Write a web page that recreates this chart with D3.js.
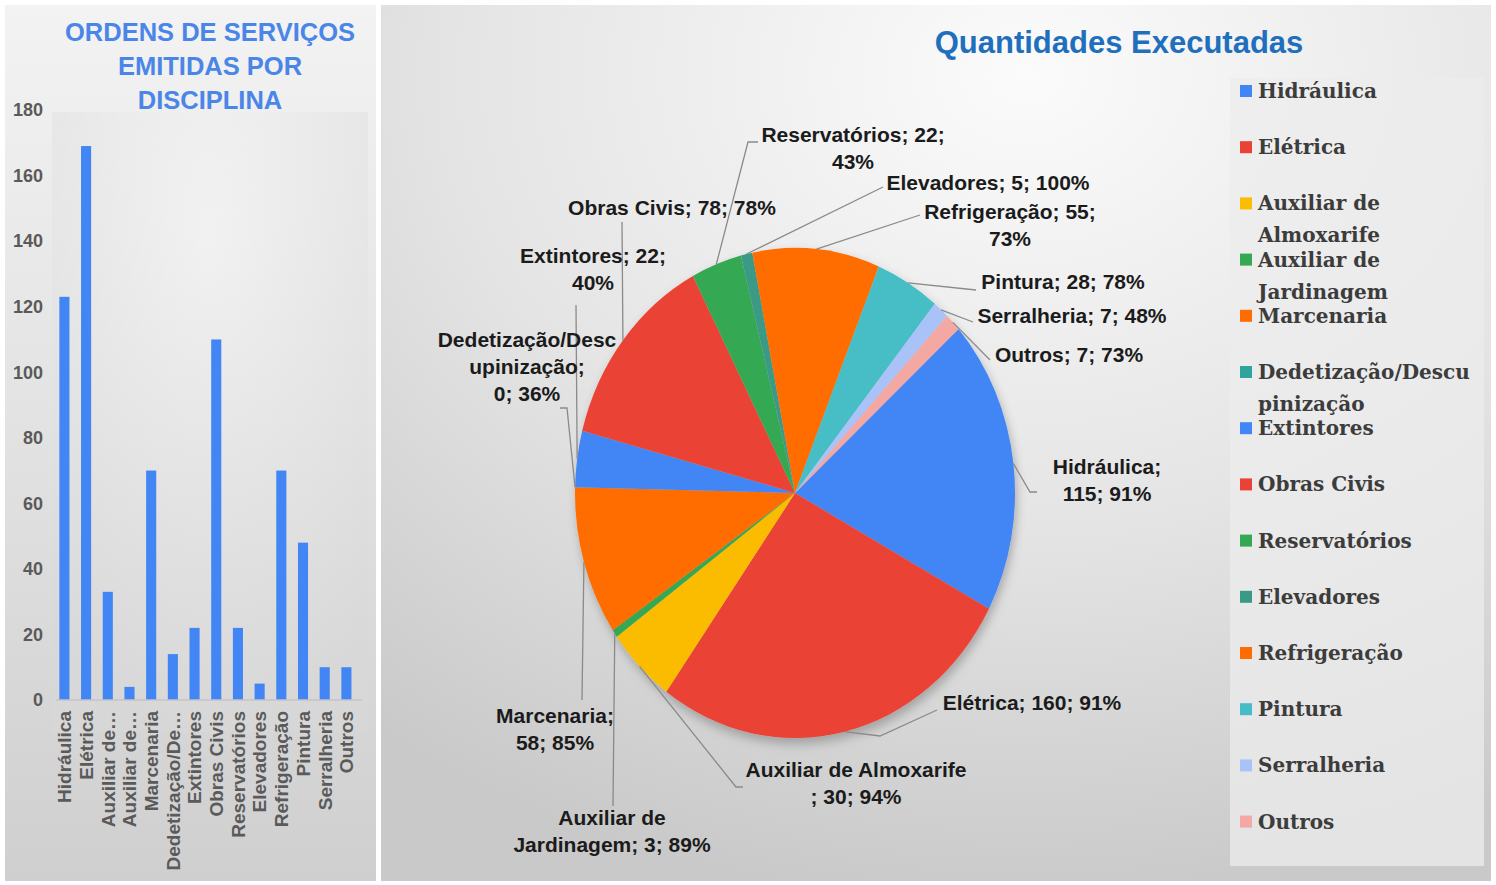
<!DOCTYPE html>
<html>
<head>
<meta charset="utf-8">
<script src="https://cdn.jsdelivr.net/npm/d3@7"></script>
<style>
  body { margin: 0; background: #ffffff; }
  svg { display: block; }
</style>
</head>
<body>
<div id="chart"></div>
<script>
// categorias (mesma ordem no gráfico de barras, na pizza e na legenda)
const categorias = ["Hidráulica", "Elétrica", "Auxiliar de Almoxarife", "Auxiliar de Jardinagem",
  "Marcenaria", "Dedetização/Descupinização", "Extintores", "Obras Civis", "Reservatórios",
  "Elevadores", "Refrigeração", "Pintura", "Serralheria", "Outros"]

// rótulos do eixo x (truncados como no original)
const rotulosBarras = ["Hidráulica", "Elétrica", "Auxiliar de…", "Auxiliar de…", "Marcenaria",
  "Dedetização/De…", "Extintores", "Obras Civis", "Reservatórios", "Elevadores",
  "Refrigeração", "Pintura", "Serralheria", "Outros"]

// ordens de serviço emitidas (barras)
const ordensEmitidas = [123, 169, 33, 4, 70, 14, 22, 110, 22, 5, 70, 48, 10, 10]

// quantidades executadas (pizza) e percentual
const qtdExecutadas = [115, 160, 30, 3, 58, 0, 22, 78, 22, 5, 55, 28, 7, 7]
const percentuais = ["91%", "91%", "94%", "89%", "85%", "36%", "40%", "78%", "43%", "100%", "73%", "78%", "48%", "73%"]

const yTicks = [0, 20, 40, 60, 80, 100, 120, 140, 160, 180]

const coresFatias = ["#4285f4", "#ea4335", "#fbbc04", "#34a853", "#ff6d01", "#2fa39c", "#4285f4",
  "#ea4335", "#34a853", "#3a9a86", "#ff6d01", "#46bdc6", "#a9c3f8", "#f4a8a3"]

// posicao dos rotulos da pizza (layout, estilo excel): centro do texto, quebras, pontos da linha guia
const layoutRotulos = [
  {x: 1107, y: 467, br: [11], guia: [[1030, 492], [1037, 492]]},
  {x: 1032, y: 703, br: [], guia: [[880, 736], [937, 710]]},
  {x: 856, y: 770, br: [22], guia: [[736, 787], [743, 787]]},
  {x: 612, y: 818, br: [11], guia: [[613, 806]]},
  {x: 555, y: 716, br: [11], guia: [[582, 700]]},
  {x: 527, y: 340, br: [16, 27], guia: [[567, 408], [560, 408]]},
  {x: 593, y: 256, br: [15], guia: [[576, 305]]},
  {x: 672, y: 208, br: [], guia: [[622, 222]]},
  {x: 853, y: 135, br: [18], guia: [[748, 142], [758, 142]]},
  {x: 988, y: 183, br: [], guia: [[883, 187]]},
  {x: 1010, y: 212, br: [17], guia: [[920, 215]]},
  {x: 1063, y: 282, br: [], guia: [[976, 290]]},
  {x: 1072, y: 316, br: [], guia: [[973, 322]]},
  {x: 1069, y: 355, br: [], guia: [[990, 360]]}
]

const W = 1496, H = 885

const svg = d3.select("#chart")
  .append("svg")
  .attr("width", W)
  .attr("height", H)

const defs = svg.append("defs")

// fundos com gradiente
const gEsq = defs.append("linearGradient").attr("id", "fundoEsq")
  .attr("x1", 0).attr("y1", 0).attr("x2", 0).attr("y2", 1)
gEsq.append("stop").attr("offset", "0%").attr("stop-color", "#f3f3f3")
gEsq.append("stop").attr("offset", "55%").attr("stop-color", "#e0e0e0")
gEsq.append("stop").attr("offset", "100%").attr("stop-color", "#cfcfcf")

const gDir = defs.append("radialGradient").attr("id", "fundoDir")
  .attr("cx", "58%").attr("cy", "8%").attr("r", "95%")
gDir.append("stop").attr("offset", "0%").attr("stop-color", "#fbfbfb")
gDir.append("stop").attr("offset", "55%").attr("stop-color", "#e4e4e4")
gDir.append("stop").attr("offset", "100%").attr("stop-color", "#c9c9c9")

const gPlot = defs.append("radialGradient").attr("id", "fundoPlot")
  .attr("cx", "50%").attr("cy", "20%").attr("r", "80%")
gPlot.append("stop").attr("offset", "0%").attr("stop-color", "#f6f6f6")
gPlot.append("stop").attr("offset", "100%").attr("stop-color", "#d8d8d8")

const sombra = defs.append("filter").attr("id", "sombra")
  .attr("x", "-20%").attr("y", "-20%").attr("width", "140%").attr("height", "140%")
sombra.append("feDropShadow").attr("dx", 2).attr("dy", 5).attr("stdDeviation", 5)
  .attr("flood-color", "#000").attr("flood-opacity", 0.25)

svg.append("rect").attr("x", 5).attr("y", 5).attr("width", 371).attr("height", 876)
  .attr("fill", "url(#fundoEsq)")
svg.append("rect").attr("x", 52).attr("y", 112).attr("width", 316).attr("height", 620)
  .attr("fill", "url(#fundoPlot)").attr("opacity", 0.6)
svg.append("rect").attr("x", 381).attr("y", 5).attr("width", 1110).attr("height", 876)
  .attr("fill", "url(#fundoDir)")

// ---------------- barras ----------------
const titulo = ["ORDENS DE SERVIÇOS", "EMITIDAS POR", "DISCIPLINA"]
svg.append("g").selectAll("text")
  .data(titulo)
  .join("text")
  .attr("x", 210)
  .attr("y", (d, i) => 32 + i * 34)
  .attr("dy", "0.35em")
  .attr("text-anchor", "middle")
  .style("font-family", "'Liberation Sans', Arial, sans-serif")
  .style("font-weight", "bold")
  .style("font-size", "25.5px")
  .style("fill", "#4a86e8")
  .text(d => d)

const xScale = d3.scaleBand()
  .domain(d3.range(categorias.length))
  .range([53.5, 357.3])
  .paddingInner(0.535)
  .paddingOuter(0.27)

const yScale = d3.scaleLinear()
  .domain([0, 180])
  .range([700, 110])

svg.append("g").selectAll("text")
  .data(yTicks)
  .join("text")
  .attr("x", 43)
  .attr("y", d => yScale(d))
  .attr("dy", "0.35em")
  .attr("text-anchor", "end")
  .style("font-family", "'Liberation Sans', Arial, sans-serif")
  .style("font-weight", "bold")
  .style("font-size", "18px")
  .style("fill", "#5a5a5a")
  .text(d => d)

svg.append("g").selectAll("rect")
  .data(ordensEmitidas)
  .join("rect")
  .attr("x", (d, i) => xScale(i))
  .attr("y", d => yScale(d))
  .attr("width", xScale.bandwidth())
  .attr("height", d => yScale(0) - yScale(d))
  .attr("fill", "#4285f4")

svg.append("line")
  .attr("x1", 56).attr("x2", 362)
  .attr("y1", yScale(0)).attr("y2", yScale(0))
  .attr("stroke", "#c4c4c4").attr("stroke-width", 1.5)

svg.append("g").selectAll("text")
  .data(rotulosBarras)
  .join("text")
  .attr("transform", (d, i) => `translate(${xScale(i) + xScale.bandwidth() / 2},711) rotate(-90)`)
  .attr("dy", "0.36em")
  .attr("text-anchor", "end")
  .style("font-family", "'Liberation Sans', Arial, sans-serif")
  .style("font-weight", "bold")
  .style("font-size", "19px")
  .style("fill", "#5a5a5a")
  .text(d => d)

// ---------------- pizza ----------------
svg.append("text")
  .attr("x", 1119).attr("y", 42)
  .attr("dy", "0.35em")
  .attr("text-anchor", "middle")
  .style("font-family", "'Liberation Sans', Arial, sans-serif")
  .style("font-weight", "bold")
  .style("font-size", "31px")
  .style("fill", "#1f6fbd")
  .text("Quantidades Executadas")

const cx = 795, cy = 493, raio = 220, esticar = 245 / 220
const inicio = 48 * Math.PI / 180

const pie = d3.pie().sort(null).value(d => d)
  .startAngle(inicio).endAngle(inicio + 2 * Math.PI)
const arcs = pie(qtdExecutadas)
const arc = d3.arc().innerRadius(0).outerRadius(raio)

svg.append("g")
  .attr("transform", `translate(${cx},${cy}) scale(1,${esticar})`)
  .attr("filter", "url(#sombra)")
  .selectAll("path")
  .data(arcs)
  .join("path")
  .attr("d", arc)
  .attr("fill", (d, i) => coresFatias[i])

// ponto na borda da fatia (meio do angulo)
function pontoBorda(d) {
  const a = (d.startAngle + d.endAngle) / 2
  return [cx + raio * Math.sin(a), cy - raio * esticar * Math.cos(a)]
}

svg.append("g").selectAll("polyline")
  .data(arcs)
  .join("polyline")
  .attr("points", (d, i) => [pontoBorda(d)].concat(layoutRotulos[i].guia).map(p => p.join(",")).join(" "))
  .attr("fill", "none")
  .attr("stroke", "#8a8a8a")
  .attr("stroke-width", 1.3)

function quebrar(s, br) {
  const linhas = []
  let ant = 0
  br.forEach(b => { linhas.push(s.slice(ant, b).trim()); ant = b })
  linhas.push(s.slice(ant).trim())
  return linhas
}

const rotulos = svg.append("g")
  .style("font-family", "'Liberation Sans', Arial, sans-serif")
  .style("font-weight", "bold")
  .style("font-size", "21px")
  .style("fill", "#1b1b1b")

categorias.forEach((c, i) => {
  const lay = layoutRotulos[i]
  const linhas = quebrar(`${c}; ${qtdExecutadas[i]}; ${percentuais[i]}`, lay.br)
  rotulos.append("text")
    .attr("text-anchor", "middle")
    .selectAll("tspan")
    .data(linhas)
    .join("tspan")
    .attr("x", lay.x)
    .attr("y", (d, j) => lay.y + j * 27)
    .attr("dy", "0.35em")
    .text(d => d)
})

// ---------------- legenda ----------------
svg.append("rect").attr("x", 1230).attr("y", 78).attr("width", 254).attr("height", 788)
  .attr("fill", "#ececec").attr("opacity", 0.75)

const leg = svg.append("g")
  .style("font-family", "'DejaVu Serif', 'Liberation Serif', serif")
  .style("font-weight", "bold")
  .style("font-size", "20px")
  .style("fill", "#3c3c3c")

const legQuebras = {2: ["Auxiliar de", "Almoxarife"], 3: ["Auxiliar de", "Jardinagem"],
  5: ["Dedetização/Descu", "pinização"]}

categorias.forEach((c, i) => {
  const y = 91 + i * 56.2
  leg.append("rect")
    .attr("x", 1240).attr("y", y - 6)
    .attr("width", 12).attr("height", 12)
    .attr("fill", coresFatias[i])
  const linhas = legQuebras[i] || [c]
  leg.append("text")
    .selectAll("tspan")
    .data(linhas)
    .join("tspan")
    .attr("x", 1258)
    .attr("y", (d, j) => y + j * 32)
    .attr("dy", "0.35em")
    .text(d => d)
})
</script>
</body>
</html>
